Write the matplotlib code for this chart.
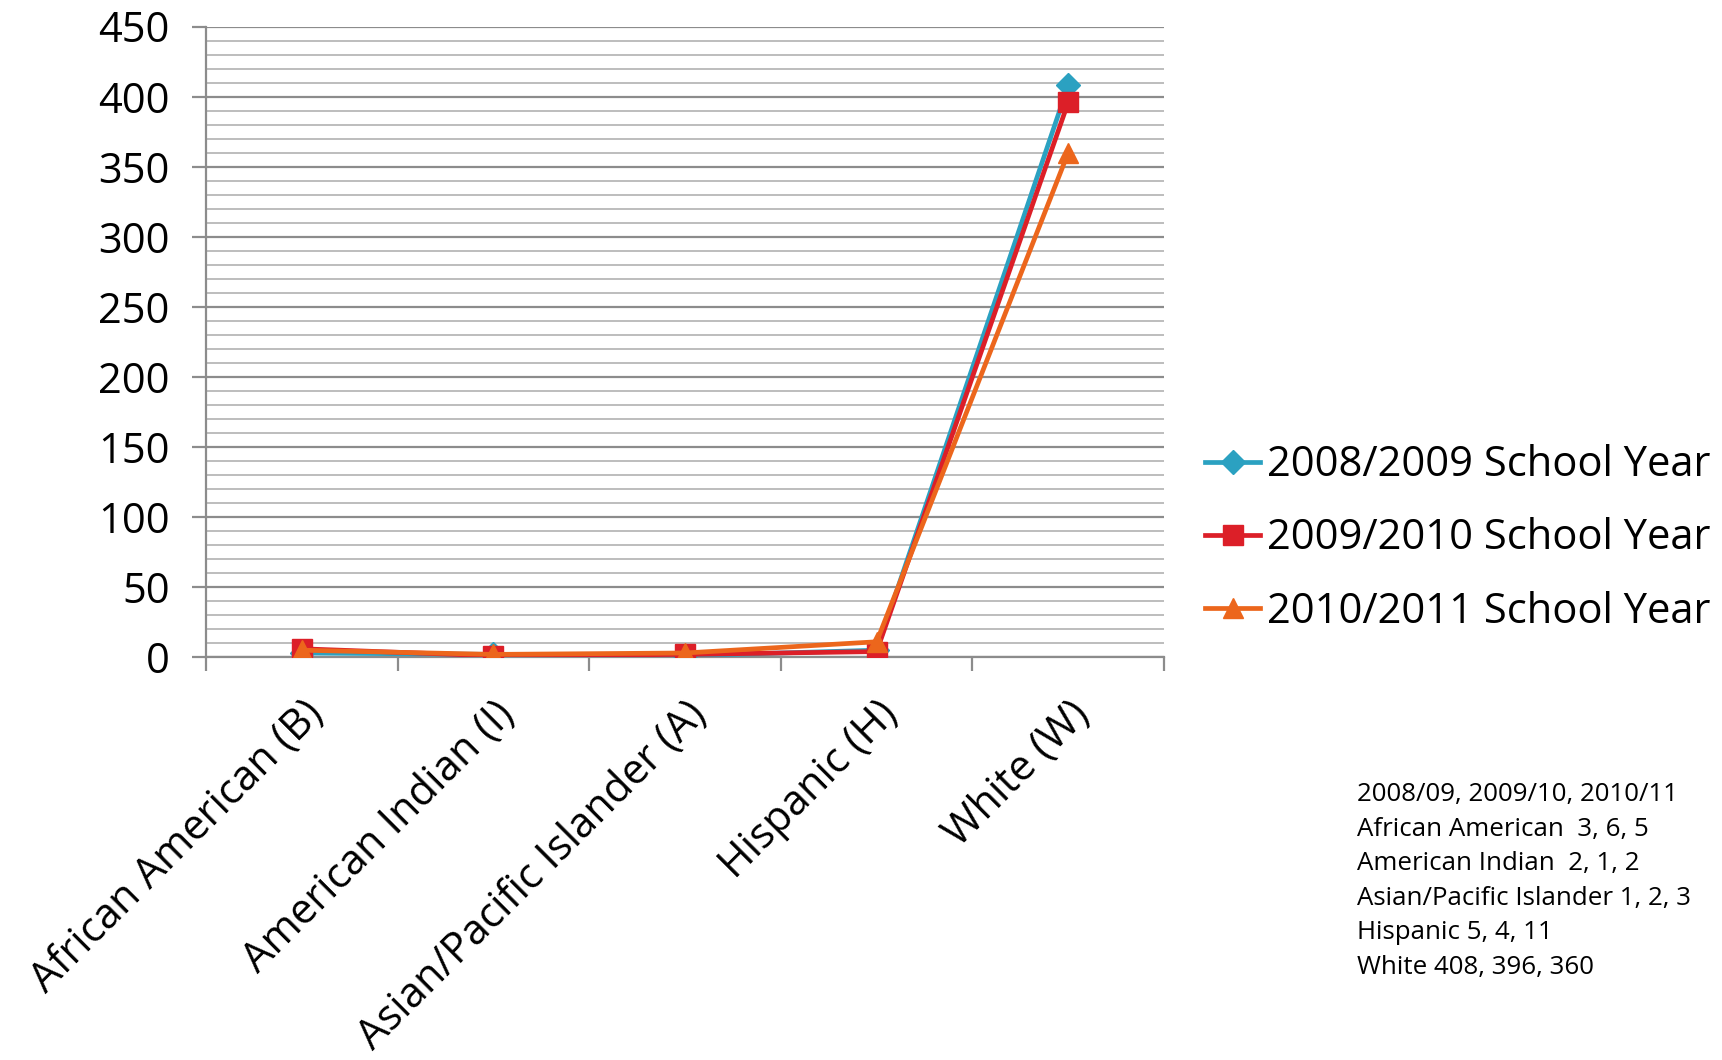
import matplotlib.pyplot as plt
import numpy as np

plt.rcParams['font.family'] = ['Open Sans', 'DejaVu Sans']

categories = ["African American (B)", "American Indian (I)",
              "Asian/Pacific Islander (A)", "Hispanic (H)", "White (W)"]
year_2008 = [3, 2, 1, 5, 408]
year_2009 = [6, 1, 2, 4, 396]
year_2010 = [5, 2, 3, 11, 360]
series_names = ["2008/2009 School Year", "2009/2010 School Year", "2010/2011 School Year"]
note_lines = ["2008/09, 2009/10, 2010/11",
              "African American  3, 6, 5",
              "American Indian  2, 1, 2",
              "Asian/Pacific Islander 1, 2, 3",
              "Hispanic 5, 4, 11",
              "White 408, 396, 360"]

fig = plt.figure(figsize=(17.22, 10.60), dpi=100)
ax = fig.add_axes([0.1196, 0.380, 0.5564, 0.595])

x = np.arange(len(categories))
ax.plot(x, year_2008, color='#2ba1c1', marker='D', markersize=12, lw=3.4,
        label=series_names[0], zorder=3)
ax.plot(x, year_2009, color='#dc1f28', marker='s', markersize=14, lw=3.4,
        label=series_names[1], zorder=4)
ax.plot(x, year_2010, color='#ec661c', marker='^', markersize=14, lw=3.4,
        label=series_names[2], zorder=5)

ax.set_xlim(-0.5, len(categories) - 0.5)
ax.set_ylim(0, 450)

# grid: major every 50, minor every 10
ax.set_yticks(np.arange(0, 451, 50))
ax.set_yticks(np.arange(0, 451, 10), minor=True)
ax.yaxis.grid(True, which='major', color='#8c8c8c', lw=1.6, zorder=0)
ax.yaxis.grid(True, which='minor', color='#bdbdbd', lw=1.4, zorder=0)
ax.tick_params(axis='y', which='major', length=10, width=1.6, color='#8c8c8c',
               labelsize=30, pad=16)
ax.tick_params(axis='y', which='minor', length=0)

ax.set_xticks(x)
ax.set_xticklabels(categories, rotation=45, ha='right', va='top',
                   rotation_mode='anchor', fontsize=30)
ax.set_xticks(np.arange(-0.5, len(categories)), minor=True)
ax.tick_params(axis='x', which='major', length=0, pad=26)
ax.tick_params(axis='x', which='minor', length=10, width=1.6, color='#8c8c8c')

for s in ['top', 'right']:
    ax.spines[s].set_visible(False)
for s in ['left', 'bottom']:
    ax.spines[s].set_color('#8c8c8c')
    ax.spines[s].set_linewidth(1.6)
ax.set_axisbelow(True)

fig.legend(loc='center left', bbox_to_anchor=(0.700, 0.492), fontsize=30,
           frameon=False, handlelength=1.32, handletextpad=0.15, labelspacing=0.75,
           borderpad=0, borderaxespad=0)

fig.text(0.788, 0.262, "\n".join(note_lines), fontsize=18.6, va='top', ha='left',
         linespacing=1.5)

fig.savefig('out.png', dpi=100)
